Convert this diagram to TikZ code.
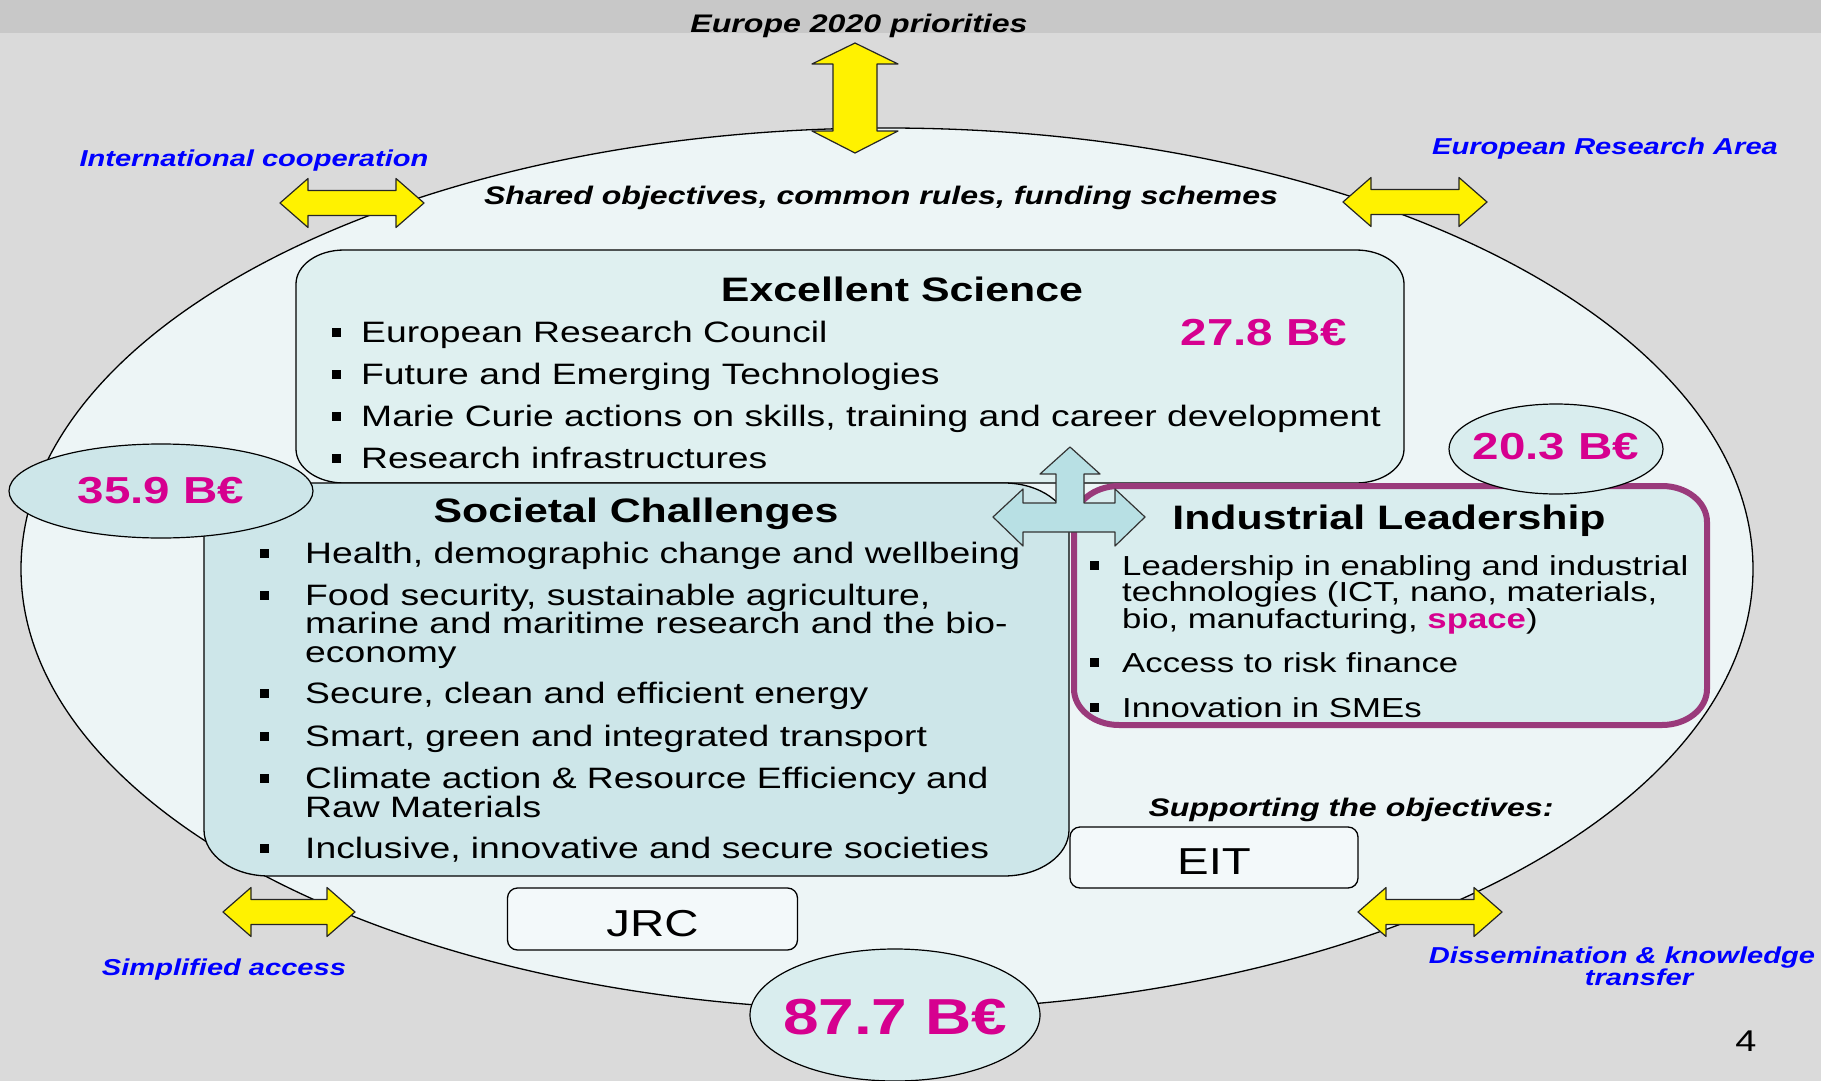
\documentclass[tikz,border=0pt]{standalone}
\usepackage{fontspec}
\setmainfont{Liberation Sans}[FakeStretch=1.264]
\usetikzlibrary{shapes.geometric}
\definecolor{bgc}{HTML}{DADADA}
\definecolor{bandc}{HTML}{C8C8C8}
\definecolor{framec}{HTML}{EDF5F6}
\definecolor{esc}{HTML}{DFF0F0}
\definecolor{socc}{HTML}{CDE6E9}
\definecolor{ilc}{HTML}{D9EDEE}
\definecolor{boxc}{HTML}{F3F9FA}
\definecolor{cyanarr}{HTML}{B8E0E4}
\definecolor{purp}{HTML}{9A3A7B}
\definecolor{magc}{HTML}{D6008F}
\definecolor{bluec}{HTML}{0000FF}
% rounded box with elliptical corners: style, x1, y1, x2, y2, rx, ry
\newcommand\ebox[7]{\path[#1] (#2+#6,#3) -- (#4-#6,#3) .. controls (#4-0.4477*#6,#3) and (#4,#3+0.4477*#7) .. (#4,#3+#7) -- (#4,#5-#7) .. controls (#4,#5-0.4477*#7) and (#4-0.4477*#6,#5) .. (#4-#6,#5) -- (#2+#6,#5) .. controls (#2+0.4477*#6,#5) and (#2,#5-0.4477*#7) .. (#2,#5-#7) -- (#2,#3+#7) .. controls (#2,#3+0.4477*#7) and (#2+0.4477*#6,#3) .. (#2+#6,#3) -- cycle;}
% horizontal yellow double arrow: cx, cy, half width
\newcommand\hdarrow[3]{\draw[yarrow] (#1-#3,#2) -- (#1-#3+28,#2-24.5) -- (#1-#3+28,#2-12.5) -- (#1+#3-28,#2-12.5) -- (#1+#3-28,#2-24.5) -- (#1+#3,#2) -- (#1+#3-28,#2+24.5) -- (#1+#3-28,#2+12.5) -- (#1-#3+28,#2+12.5) -- (#1-#3+28,#2+24.5) -- cycle;}
% bullet square: x, baseline
\newcommand\bul[2]{\fill (#1-4.5,#2-14.5) rectangle (#1+4.5,#2-5.5);}
\begin{document}
\begin{tikzpicture}[x=1pt,y=-1pt,line join=round,
  frame/.style={ellipse, draw=black, line width=1.3pt, fill=framec, inner sep=0pt},
  esbox/.style={draw=black, line width=1.3pt, fill=esc},
  socbox/.style={draw=black, line width=1.3pt, fill=socc},
  ilbox/.style={draw=purp, line width=6pt, fill=ilc},
  yarrow/.style={fill=yellow, draw=black!85, line width=1.2pt},
  carrow/.style={fill=cyanarr, draw=black!80, line width=1.2pt},
  moneyell/.style={ellipse, draw=black, line width=1.2pt, inner sep=0pt},
  moneytxt/.style={inner sep=0pt, text=magc, font=\fontsize{37.6}{40}\selectfont\bfseries},
  body/.style={anchor=base west, inner sep=0pt, font=\fontsize{29.5}{32}\selectfont},
  ilbody/.style={anchor=base west, inner sep=0pt, font=\fontsize{27.5}{30}\selectfont},
  title/.style={anchor=base, inner sep=0pt, font=\fontsize{33.9}{36}\selectfont\bfseries},
  bluelab/.style={anchor=base, inner sep=0pt, text=bluec, font=\fontsize{23}{25}\selectfont\bfseries\itshape},
  blacklab/.style={anchor=base, inner sep=0pt, font=\fontsize{25.4}{27}\selectfont\bfseries\itshape},
  smallbox/.style={draw=black, line width=1.3pt, fill=boxc, rounded corners=10pt, inner sep=0pt},
  smalltxt/.style={inner sep=0pt, font=\fontsize{37.5}{40}\selectfont}
]
\useasboundingbox (0,0) rectangle (1821,1081);
\fill[bgc] (0,0) rectangle (1821,1081);
\fill[bandc] (0,0) rectangle (1821,33);
% outer ellipse
\node[frame, minimum width=1732pt, minimum height=882pt] (frame) at (887,569) {};
% yellow arrows
\draw[yarrow] (855,43) -- (898,64) -- (877,64) -- (877,131) -- (898,131) -- (855,153) -- (812,131) -- (833,131) -- (833,64) -- (812,64) -- cycle;
\hdarrow{352}{203}{72}
\hdarrow{1415}{202}{72}
\hdarrow{289}{912}{66}
\hdarrow{1430}{912}{72}
% boxes
\ebox{esbox}{296}{250}{1404}{483}{48}{34}
\ebox{socbox}{204}{483}{1069}{876}{65}{46}
\ebox{ilbox}{1074}{486}{1707}{725}{45}{36}
% cyan three-way arrow
\draw[carrow] (1070,447) -- (1100,474) -- (1084,474) -- (1084,503) -- (1115,503) -- (1115,489) -- (1145,517) -- (1115,546) -- (1115,532) -- (1023,532) -- (1023,546) -- (993,517) -- (1023,489) -- (1023,503) -- (1056,503) -- (1056,474) -- (1040,474) -- cycle;
% budget ellipses
\node[moneyell, fill=socc, minimum width=304pt, minimum height=94pt] (m359) at (161,491) {};
\node[moneytxt] (m359t) at (m359.center) {35.9 B€};
\node[moneyell, fill=ilc, minimum width=214pt, minimum height=90pt] (m203) at (1556,449) {};
\node[moneytxt] (m203t) at (1556,447) {20.3 B€};
\node[moneyell, fill=ilc, minimum width=290pt, minimum height=132pt] (m877) at (895,1015) {};
\node[moneytxt, font=\fontsize{50.6}{54}\selectfont\bfseries] (m877t) at (895,1017) {87.7 B€};
% JRC / EIT
\node[smallbox, minimum width=290pt, minimum height=62pt] (jrc) at (652.5,919) {};
\node[smalltxt] (jrct) at (652.5,924) {JRC};
\node[smallbox, minimum width=288pt, minimum height=61pt] (eit) at (1214,857.5) {};
\node[smalltxt] (eitt) at (1214,862) {EIT};
% Excellent Science
\node[title] (est) at (902,301) {Excellent Science};
\node[moneytxt, anchor=base] (esm) at (1264,345) {27.8 B€};
\node[body] (es1) at (361,342) {European Research Council};
\node[body] (es2) at (361,384) {Future and Emerging Technologies};
\node[body] (es3) at (361,426) {Marie Curie actions on skills, training and career development};
\node[body] (es4) at (361,468) {Research infrastructures};
\bul{336}{342}\bul{336}{384}\bul{336}{426}\bul{336}{468}
% Societal Challenges
\node[title] (sct) at (636,522) {Societal Challenges};
\node[body] (sc1) at (305,563) {Health, demographic change and wellbeing};
\node[body] (sc2) at (305,605) {Food security, sustainable agriculture,};
\node[body] (sc3) at (305,633) {marine and maritime research and the bio-};
\node[body] (sc4) at (305,662) {economy};
\node[body] (sc5) at (305,703) {Secure, clean and efficient energy};
\node[body] (sc6) at (305,746) {Smart, green and integrated transport};
\node[body] (sc7) at (305,788) {Climate action \& Resource Efficiency and};
\node[body] (sc8) at (305,817) {Raw Materials};
\node[body] (sc9) at (305,858) {Inclusive, innovative and secure societies};
\bul{264}{563}\bul{264}{605}\bul{264}{703}\bul{264}{746}\bul{264}{788}\bul{264}{858}
% Industrial Leadership
\node[title] (ilt) at (1389,529) {Industrial Leadership};
\node[ilbody] (il1) at (1122,575) {Leadership in enabling and industrial};
\node[ilbody] (il2) at (1122,601) {technologies (ICT, nano, materials,};
\node[ilbody] (il3) at (1122,628) {bio, manufacturing, {\bfseries\color{magc}space})};
\node[ilbody] (il4) at (1122,672) {Access to risk finance};
\node[ilbody] (il5) at (1122,717) {Innovation in SMEs};
\bul{1094}{575}\bul{1094}{672}\bul{1094}{717}
% labels
\node[blacklab] (e2020) at (859,33) {Europe 2020 priorities};
\node[blacklab] (shared) at (881,204) {Shared objectives, common rules, funding schemes};
\node[blacklab] (supp) at (1351,816) {Supporting the objectives:};
\node[bluelab] (intl) at (254,166) {International cooperation};
\node[bluelab] (era) at (1605,154) {European Research Area};
\node[bluelab] (simp) at (224,975) {Simplified access};
\node[bluelab] (diss1) at (1622,963) {Dissemination \& knowledge};
\node[bluelab] (diss2) at (1639,985) {transfer};
\node[anchor=base, inner sep=0pt, font=\fontsize{30}{32}\selectfont] (pnum) at (1746,1051) {4};
\end{tikzpicture}
\end{document}
